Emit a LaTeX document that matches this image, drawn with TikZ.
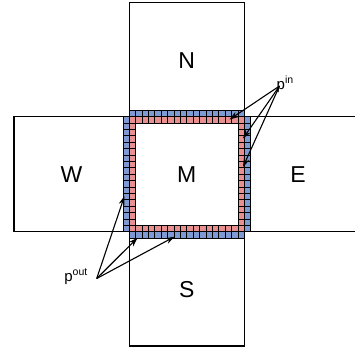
\documentclass[tikz,border=0pt]{standalone}
\usepackage{fontspec}
\setmainfont{Liberation Sans}
\usetikzlibrary{arrows.meta}
\definecolor{cellpink}{RGB}{232,144,144}
\definecolor{cellblue}{RGB}{125,155,210}
\begin{document}
\begin{tikzpicture}[x=1pt,y=-1pt,
  region/.style={draw=black, line width=1.2pt, inner sep=0pt},
  bigtext/.style={font=\fontsize{23}{23}\selectfont, inner sep=0pt},
  cellin/.style={fill=cellpink, draw=black, line width=0.8pt},
  cellout/.style={fill=cellblue, draw=black, line width=0.8pt},
  ptr/.style={-{Stealth[length=9pt,width=6pt]}, line width=1.1pt},
  plabel/.style={font=\fontsize{15}{15}\selectfont, inner sep=0pt}]
\useasboundingbox (0,0) rectangle (355,349);
\clip (0,0) rectangle (355,349);
\def\xa{129.3}
\def\ya{116.7}
\def\cs{6.389}
% surrounding regions
\node[region, minimum width=115pt, minimum height=114pt] (Nbox) at (186.8,59.7) {};
\node[region, minimum width=115.3pt, minimum height=115pt] (Wbox) at (71.65,174.2) {};
\node[region, minimum width=125pt, minimum height=115pt] (Ebox) at (306.8,174.2) {};
\node[region, minimum width=115pt, minimum height=114.3pt] (Sbox) at (186.8,288.85) {};
\node[bigtext] (N) at (186.8,60.5) {N};
\node[bigtext] (W) at (71.6,174.2) {W};
\node[bigtext] (E) at (298,174.2) {E};
\node[bigtext] (S) at (186.8,290) {S};
% cells
\foreach \i in {0,...,17} {
  \draw[cellin] (\xa+\i*\cs, \ya) rectangle ++(\cs,\cs);
  \draw[cellin] (\xa+\i*\cs, \ya+17*\cs) rectangle ++(\cs,\cs);
  \draw[cellin] (\xa, \ya+\i*\cs) rectangle ++(\cs,\cs);
  \draw[cellin] (\xa+17*\cs, \ya+\i*\cs) rectangle ++(\cs,\cs);
  \draw[cellout] (\xa+\i*\cs, \ya-\cs) rectangle ++(\cs,\cs);
  \draw[cellout] (\xa+\i*\cs, \ya+18*\cs) rectangle ++(\cs,\cs);
  \draw[cellout] (\xa-\cs, \ya+\i*\cs) rectangle ++(\cs,\cs);
  \draw[cellout] (\xa+18*\cs, \ya+\i*\cs) rectangle ++(\cs,\cs);
}
\node[bigtext] (M) at (186.8,174.2) {M};
% labels
\node[plabel, anchor=base west] (pin) at (276.5,89) {p\textsuperscript{in}};
\node[plabel, anchor=base east] (pout) at (88,281) {p\textsuperscript{out}};
\coordinate (pinsrc) at (279.5,86);
\coordinate (poutsrc) at (96.7,278.5);
\coordinate (in1) at (229.5,119.5);
\coordinate (in2) at (243,138.5);
\coordinate (in3) at (243,167);
\coordinate (out1) at (124.5,196);
\coordinate (out2) at (137.5,237.8);
\coordinate (out3) at (174.5,236.7);
\foreach \t in {in1,in2,in3} \draw[ptr] (pinsrc) -- (\t);
\foreach \t in {out1,out2,out3} \draw[ptr] (poutsrc) -- (\t);
\end{tikzpicture}
\end{document}
